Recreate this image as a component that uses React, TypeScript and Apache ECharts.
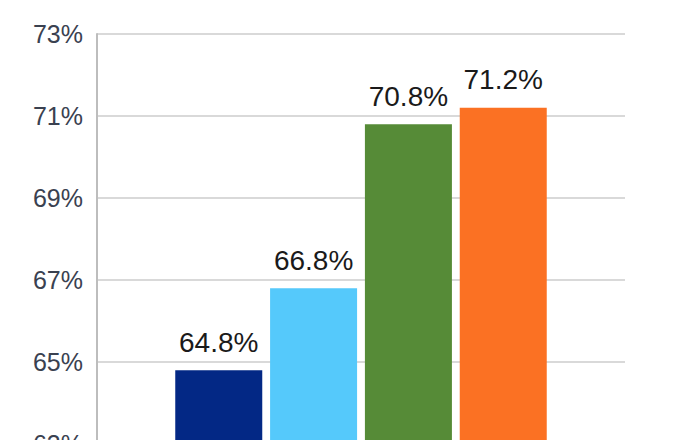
import React, { useEffect, useRef } from "react";
import * as echarts from "echarts";

const categories = [""];
const seriesNames = ["A", "B", "C", "D"];
const seriesValues = [64.8, 66.8, 70.8, 71.2];
const seriesColors = ["#032885", "#55c9fb", "#568b37", "#fb7123"];
const yMin = 63;
const yMax = 73;
const yInterval = 2;

export default function App() {
  const ref = useRef<HTMLDivElement>(null);
  useEffect(() => {
    if (!ref.current) return;
    const chart = echarts.init(ref.current, null, { renderer: "svg" });
    const font = "'Liberation Sans', Arial, sans-serif";
    chart.setOption({
      animation: false,
      backgroundColor: "#ffffff",
      grid: {
        left: 97,
        width: 528,
        top: 34,
        height: 410,
        containLabel: false,
        outerBoundsMode: "none",
      },
      xAxis: {
        type: "category",
        data: categories,
        axisLine: { show: false },
        axisTick: { show: false },
        axisLabel: { show: false },
      },
      yAxis: {
        type: "value",
        min: yMin,
        max: yMax,
        interval: yInterval,
        axisLine: { show: true, lineStyle: { color: "#bdbdbd", width: 2 } },
        axisTick: { show: false },
        splitLine: { lineStyle: { color: "#d9d9d9", width: 2 } },
        axisLabel: {
          formatter: "{value}%",
          color: "#3a4150",
          fontSize: 25,
          fontFamily: font,
          margin: 14,
          padding: [0, 0, 8, 0],
        },
      },
      series: seriesNames.map((name, i) => ({
        name,
        type: "bar",
        data: [seriesValues[i]],
        barWidth: 87,
        barGap: "9%",
        itemStyle: { color: seriesColors[i] },
        label: {
          show: true,
          position: "top",
          distance: 14,
          formatter: (p: any) => p.value.toFixed(1) + "%",
          color: "#1a1a1a",
          fontSize: 28,
          fontFamily: font,
        },
      })),
    });
    return () => chart.dispose();
  }, []);
  return <div ref={ref} style={{ width: 700, height: 440, position: "absolute", left: 0, top: 0 }} />;
}
